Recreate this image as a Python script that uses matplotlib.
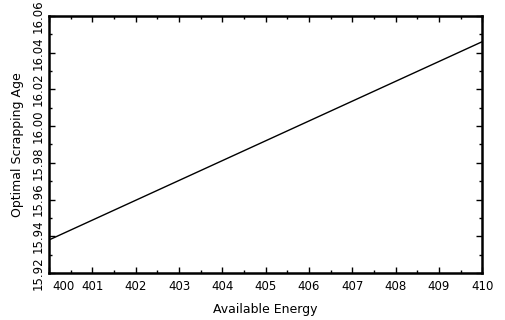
import matplotlib
matplotlib.use('Agg')
import matplotlib.pyplot as plt
import matplotlib.transforms as mtransforms
from matplotlib.ticker import MultipleLocator

energy = [400, 401, 402, 403, 404, 405, 406, 407, 408, 409, 410]
age = [15.938, 15.9488, 15.9596, 15.9704, 15.9812, 15.992,
       16.0028, 16.0136, 16.0244, 16.0352, 16.046]

x_ticks = [400, 401, 402, 403, 404, 405, 406, 407, 408, 409, 410]
y_ticks = [15.92, 15.94, 15.96, 15.98, 16.00, 16.02, 16.04, 16.06]

fig = plt.figure(figsize=(5.06, 3.2), dpi=100)
ax = fig.add_axes([0.097, 0.147, 0.856, 0.803])
ax.plot(energy, age, color='black', linewidth=1.0)

ax.set_xlim(400, 410)
ax.set_ylim(15.92, 16.06)
ax.set_xticks(x_ticks)
ax.set_yticks(y_ticks)
ax.set_yticklabels(["%.2f" % v for v in y_ticks], rotation=90, va='center')
ax.xaxis.set_minor_locator(MultipleLocator(0.5))
ax.yaxis.set_minor_locator(MultipleLocator(0.01))

ax.tick_params(which='both', direction='in', top=True, right=True, labelsize=8.5, width=1)
ax.tick_params(which='major', length=4)
ax.tick_params(which='minor', length=2)
ax.tick_params(axis='x', pad=5)
ax.tick_params(axis='y', pad=3)

for s in ax.spines.values():
    s.set_linewidth(1.8)

# shift the first x label right so it clears the y labels
first = ax.get_xticklabels()[0]
first.set_transform(first.get_transform() + mtransforms.ScaledTranslation(0.14, 0, fig.dpi_scale_trans))

ax.set_xlabel("Available Energy", fontsize=9, labelpad=7)
ax.set_ylabel("Optimal Scrapping Age", fontsize=9, labelpad=6)

fig.savefig("out.png", dpi=100)
